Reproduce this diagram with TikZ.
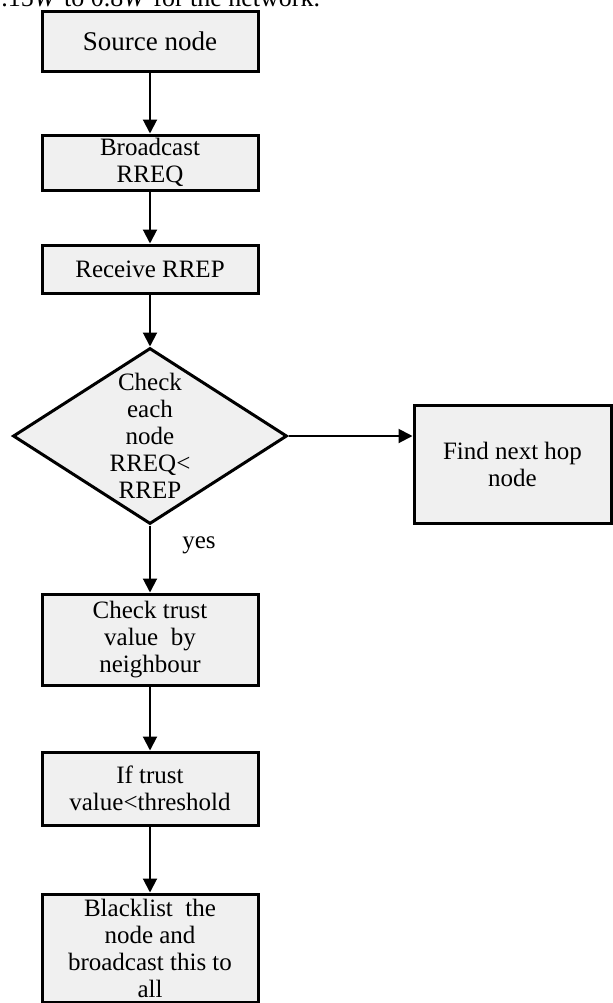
\documentclass[tikz,border=0pt]{standalone}
\usepackage{fontspec}
\setmainfont{Liberation Serif}
\usetikzlibrary{shapes.geometric,arrows.meta}
\definecolor{boxgray}{HTML}{F0F0F0}
\begin{document}
\begin{tikzpicture}[x=0.5pt,y=-0.5pt,
  box/.style={draw=black,line width=1.5pt,fill=boxgray,rectangle,align=center,
    inner sep=0pt,minimum width=108pt,font=\fontsize{12.5}{13.5}\selectfont},
  decision/.style={draw=black,line width=1.5pt,fill=boxgray,diamond,align=center,
    inner sep=-4pt,minimum width=137pt,minimum height=88pt,
    font=\fontsize{12.5}{13.5}\selectfont},
  arr/.style={line width=1pt,-{Triangle[length=7pt,width=7pt]}},
  lbl/.style={font=\fontsize{12.5}{13.5}\selectfont,inner sep=0pt}]
\useasboundingbox (0,0) rectangle (613,1003);
\node[lbl,anchor=base west,font=\fontsize{13}{14}\selectfont] (note) at (1,6)
  {.15\textit{W} to 0.8\textit{W} for the network.};
\node[box,minimum height=30pt,font=\fontsize{13.5}{14}\selectfont] (src) at (150,41) {Source node};
\node[box,minimum height=27.5pt] (bc) at (150,162.5) {Broadcast\\RREQ};
\node[box,minimum height=24pt] (rcv) at (150,269) {Receive RREP};
\node[decision] (dia) at (150,436) {Check\\each\\node\\RREQ<\\RREP};
\node[box,minimum width=98.5pt,minimum height=59pt] (find) at (512.5,464) {Find next hop\\node};
\node[box,minimum height=45.5pt] (chk) at (150,639.5) {Check trust\\value\ \ by\\neighbour};
\node[box,minimum height=36.5pt] (ift) at (150,788.5) {If trust\\value<threshold};
\node[box,minimum height=54pt] (bl) at (150,948) {Blacklist\ \ the\\node and\\broadcast this to\\all};
\draw[arr] (src) -- (bc);
\draw[arr] (bc) -- (rcv);
\draw[arr] (rcv) -- (dia.north);
\draw[arr] (dia.east) -- (find.west |- dia.east);
\draw[arr] (dia.south) -- (chk.north);
\node[lbl] (yes) at (199,545) {yes};
\draw[arr] (chk) -- (ift);
\draw[arr] (ift) -- (bl);
\end{tikzpicture}
\end{document}
